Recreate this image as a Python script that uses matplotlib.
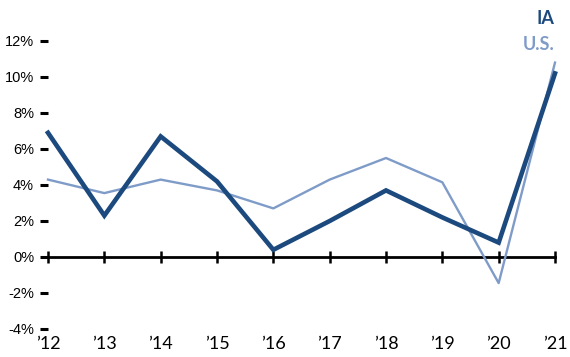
import numpy as np
from matplotlib import pyplot as plt

# Data
YEARS = ["\u201912", "\u201913", "\u201914", "\u201915", "\u201916",
         "\u201917", "\u201918", "\u201919", "\u201920", "\u201921"]
ia = [6.9, 2.3, 6.7, 4.2, 0.4, 2.0, 3.7, 2.2, 0.8, 10.2]
us = [4.3, 3.55, 4.3, 3.7, 2.7, 4.3, 5.5, 4.15, -1.45, 10.8]
Y_TICKS = [-4, -2, 0, 2, 4, 6, 8, 10, 12]

IA_COLOR = "#1c4a7e"
US_COLOR = "#7f9bc8"

fig = plt.figure(figsize=(5.7, 3.57), dpi=100)
ax = fig.add_axes([48/570, 28/357, 507/570, 288/357])

x = np.arange(len(YEARS))
ax.plot(x, us, color=US_COLOR, lw=1.7, clip_on=False, zorder=3)
ax.plot(x, ia, color=IA_COLOR, lw=3.3, clip_on=False, zorder=4,
        solid_joinstyle="miter")

ax.set_xlim(0, len(YEARS) - 1)
ax.set_ylim(-4, 12)

# zero line with tick marks
for s in ["top", "right", "left"]:
    ax.spines[s].set_visible(False)
ax.spines["bottom"].set_position(("data", 0))
ax.spines["bottom"].set_linewidth(2)
ax.spines["bottom"].set_bounds(-0.03, len(YEARS) - 1)
ax.set_xticks(x)
ax.tick_params(axis="x", direction="inout", length=9, width=1.8, labelbottom=False)

# year labels along the bottom
sec = ax.secondary_xaxis(0.0)
sec.spines["bottom"].set_visible(False)
sec.set_xticks(x, YEARS)
sec.tick_params(length=0, pad=5, labelsize=13)
for t in sec.get_xticklabels():
    t.set_family("Lato")

ax.set_yticks(Y_TICKS, [f"{v}%" for v in Y_TICKS])
ax.tick_params(axis="y", direction="out", length=6, width=2.2, pad=4,
               labelsize=10.5)
for t in ax.get_yticklabels():
    t.set_family("Liberation Sans")

fig.text(545/570, 1 - 18/357, "IA", color=IA_COLOR, fontsize=13,
         fontweight="bold", family="Lato", ha="center", va="center")
fig.text(539/570, 1 - 45/357, "U.S.", color=US_COLOR, fontsize=13,
         fontweight="bold", family="Lato", ha="center", va="center")

plt.savefig("out.png", dpi=100)
